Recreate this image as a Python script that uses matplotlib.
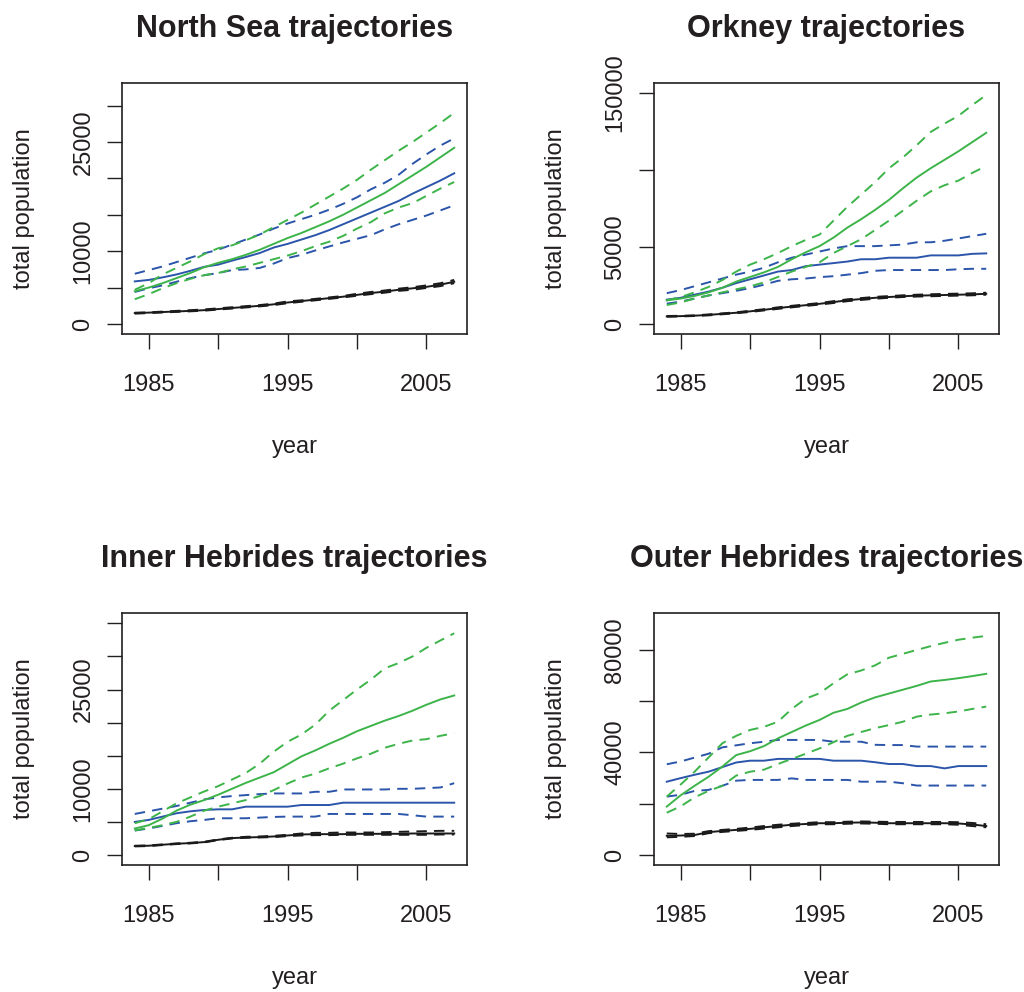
import matplotlib
matplotlib.use("Agg")
import matplotlib.pyplot as plt
import numpy as np

plt.rcParams['font.family'] = ['Liberation Sans', 'DejaVu Sans']
plt.rcParams['lines.scale_dashes'] = False

years = np.arange(1984, 2008)

# ---- North Sea ----
ns_black = [1500, 1560, 1640, 1720, 1800, 1900, 2050, 2200, 2350, 2500, 2700, 2950,
            3150, 3350, 3550, 3750, 4000, 4250, 4450, 4700, 4900, 5100, 5400, 5800]
ns_black_hi = [1550, 1600, 1700, 1800, 1900, 2000, 2150, 2300, 2450, 2600, 2800, 3100,
               3250, 3450, 3650, 3850, 4150, 4400, 4600, 4850, 5050, 5300, 5600, 6050]
ns_black_lo = [1420, 1500, 1580, 1660, 1740, 1830, 1980, 2120, 2270, 2420, 2600, 2850,
               3050, 3250, 3450, 3650, 3880, 4100, 4300, 4550, 4700, 4950, 5200, 5600]
ns_blue = [5850, 6050, 6400, 6800, 7300, 7850, 8150, 8700, 9200, 9750, 10500, 11000,
           11600, 12200, 12900, 13700, 14500, 15300, 16100, 16900, 17900, 18800, 19700, 20700]
ns_blue_hi = [6900, 7400, 7900, 8500, 9100, 9700, 10200, 10900, 11600, 12300, 13100, 13800,
              14400, 15000, 15700, 16500, 17400, 18500, 19400, 20500, 22000, 23300, 24500, 25500]
ns_blue_lo = [4400, 4900, 5300, 5800, 6300, 6700, 7000, 7400, 7500, 7700, 8300, 9050,
              9500, 10100, 10650, 11200, 11700, 12200, 13000, 13700, 14300, 14900, 15600, 16300]
ns_green = [4500, 5000, 5600, 6300, 7000, 7800, 8400, 8900, 9500, 10200, 11000, 11800,
            12500, 13300, 14100, 15000, 16000, 17000, 18000, 19200, 20400, 21600, 22900, 24200]
ns_green_hi = [4700, 5600, 6800, 7700, 8600, 9600, 10400, 10800, 11500, 12300, 13300, 14300,
               15300, 16400, 17500, 18600, 19800, 21200, 22500, 23800, 25000, 26300, 27600, 29000]
ns_green_lo = [3400, 4100, 4900, 5600, 6200, 6700, 7000, 7500, 7900, 8400, 8900, 9400,
               10000, 10700, 11300, 12100, 13100, 14000, 15200, 16000, 16600, 17600, 18600, 19500]

# ---- Orkney ----
ork_black = [4960, 5100, 5400, 5900, 6600, 7300, 8200, 9200, 10300, 11300, 12200, 13100,
             14200, 15400, 16200, 17000, 17500, 18000, 18400, 18600, 18800, 19000, 19200, 19600]
ork_black_hi = [5200, 5300, 5600, 6200, 6900, 7600, 8600, 9600, 10800, 11800, 12700, 13600,
                14800, 16000, 16800, 17600, 18100, 18600, 19000, 19300, 19500, 19700, 19900, 20300]
ork_black_lo = [4700, 4900, 5200, 5600, 6300, 7000, 7800, 8800, 9800, 10800, 11700, 12600,
                13600, 14800, 15600, 16400, 17000, 17500, 17800, 18000, 18200, 18400, 18600, 19000]
ork_blue = [15800, 17000, 19000, 21000, 23500, 26500, 29000, 31500, 34000, 35000, 37500, 38500,
            39500, 40500, 42000, 42000, 43000, 43000, 43000, 44500, 44500, 44500, 45500, 45800]
ork_blue_hi = [20000, 22000, 24500, 27000, 29500, 32000, 34000, 36500, 40000, 43000, 45000, 47000,
               49000, 50500, 50500, 50500, 51000, 51500, 53000, 53000, 54000, 55500, 57000, 58500]
ork_blue_lo = [13200, 14500, 16500, 18500, 20000, 21500, 23300, 25500, 28000, 29000, 29500, 30400,
               31000, 32000, 33000, 34500, 35000, 35000, 35000, 35000, 35000, 35500, 35800, 35800]
ork_green = [15300, 16500, 18200, 20500, 23500, 27500, 30500, 33500, 37000, 42000, 46500, 50500,
             56000, 62500, 68000, 74000, 80500, 88000, 95000, 101000, 106500, 112000, 118000, 124000]
ork_green_hi = [15300, 17500, 20500, 24000, 28500, 34000, 38500, 42000, 46000, 50500, 54500, 58000,
                67000, 76000, 84000, 92000, 101000, 108000, 116000, 124500, 130000, 135000, 142000, 148500]
ork_green_lo = [12300, 14000, 16500, 18500, 20500, 22500, 24400, 27000, 30500, 34000, 37000, 40000,
                46000, 50500, 55000, 61000, 67000, 73500, 80000, 86000, 90000, 93000, 98000, 102500]

# ---- Inner Hebrides ----
ih_black = [1350, 1400, 1550, 1700, 1800, 1950, 2300, 2550, 2650, 2700, 2800, 2950,
            3100, 3150, 3150, 3150, 3200, 3200, 3200, 3200, 3250, 3250, 3250, 3250]
ih_black_hi = [1400, 1450, 1600, 1750, 1850, 2000, 2350, 2600, 2750, 2800, 2900, 3050,
               3250, 3350, 3350, 3400, 3400, 3400, 3450, 3500, 3550, 3600, 3650, 3650]
ih_black_lo = [1300, 1350, 1500, 1650, 1750, 1900, 2250, 2500, 2600, 2650, 2700, 2850,
               2950, 3000, 3000, 3050, 3050, 3050, 3050, 3050, 3050, 3050, 3100, 3100]
ih_blue = [5000, 5300, 5800, 6300, 6600, 6800, 6900, 6900, 7300, 7300, 7300, 7300,
           7550, 7550, 7550, 7900, 7900, 7900, 7900, 7900, 7900, 7900, 7900, 7900]
ih_blue_hi = [6200, 6600, 7000, 7400, 7900, 8400, 8700, 8900, 9050, 9200, 9300, 9300,
              9300, 9550, 9550, 9900, 9900, 9900, 9900, 10000, 10000, 10100, 10200, 10850]
ih_blue_lo = [3700, 4000, 4400, 4800, 5100, 5300, 5550, 5550, 5550, 5650, 5750, 5800,
              5800, 5800, 6200, 6200, 6200, 6200, 6200, 6200, 6000, 5800, 5800, 5800]
ih_green = [4000, 4500, 5500, 6700, 7600, 8300, 9100, 10000, 10900, 11700, 12500, 13700,
            14900, 15800, 16800, 17700, 18700, 19500, 20300, 21000, 21800, 22700, 23500, 24100]
ih_green_hi = [4800, 5400, 6600, 7800, 8700, 9600, 10400, 11400, 12400, 13800, 15600, 17100,
               18200, 19700, 21800, 23400, 25000, 26500, 28200, 29000, 30000, 31300, 32400, 33500]
ih_green_lo = [3700, 4100, 4500, 5000, 5800, 6700, 7300, 7800, 8300, 8900, 9800, 10800,
               11700, 12300, 13100, 13800, 14600, 15300, 16200, 16800, 17300, 17500, 18000, 18400]

# ---- Outer Hebrides ----
oh_black = [7500, 7600, 7800, 8900, 9400, 9800, 10200, 10800, 11300, 11800, 12100, 12400,
            12400, 12600, 12700, 12600, 12400, 12400, 12400, 12400, 12400, 12300, 11900, 11300]
oh_black_hi = [8400, 8200, 8300, 9300, 9800, 10200, 10700, 11300, 11800, 12200, 12500, 12800,
               12800, 13000, 13100, 13000, 12900, 12900, 12900, 12900, 12900, 12800, 12500, 12000]
oh_black_lo = [6900, 7100, 7400, 8500, 9000, 9400, 9800, 10300, 10800, 11300, 11700, 12000,
               12000, 12200, 12300, 12200, 12000, 12000, 12000, 12000, 12000, 11800, 11300, 10800]
oh_blue = [28600, 30000, 31300, 32500, 34300, 36100, 36800, 36800, 37500, 37500, 37500, 37500,
           36800, 36800, 36800, 36200, 35500, 35500, 34700, 34700, 33800, 34700, 34700, 34700]
oh_blue_hi = [35400, 36500, 38000, 39500, 42000, 42800, 43600, 44200, 44900, 44900, 44900, 44900,
              44200, 44200, 44200, 43000, 42900, 42900, 42300, 42300, 42300, 42300, 42300, 42300]
oh_blue_lo = [22800, 23500, 25000, 25400, 27000, 29000, 29300, 29300, 29300, 29900, 29300, 29300,
              29300, 29300, 28600, 28600, 28600, 28000, 27100, 27100, 27100, 27100, 27100, 27100]
oh_green = [18900, 23300, 27000, 30500, 34500, 39000, 40500, 42500, 45500, 48000, 50500, 52700,
            55500, 57000, 59500, 61500, 63000, 64500, 66000, 67700, 68300, 69000, 69800, 70700]
oh_green_hi = [22800, 27500, 32500, 38000, 43600, 46500, 48800, 50000, 52000, 57000, 61000, 63100,
               67000, 70500, 72000, 74000, 77000, 78500, 80000, 81500, 82800, 84000, 84800, 85500]
oh_green_lo = [16500, 19000, 22500, 25000, 27000, 31000, 32500, 33300, 35500, 37500, 39500, 41600,
               44000, 46500, 48000, 49500, 50700, 52000, 54000, 54800, 55300, 56000, 57000, 57900]

titles = ["North Sea trajectories", "Orkney trajectories",
          "Inner Hebrides trajectories", "Outer Hebrides trajectories"]
year_ticks = [1985, 1990, 1995, 2000, 2005]
year_labels = ["1985", "", "1995", "", "2005"]
ns_yticks = [0, 5000, 10000, 15000, 20000, 25000, 30000]
ns_ylabels = ["0", "", "10000", "", "", "25000", ""]
ork_yticks = [0, 50000, 100000, 150000]
ork_ylabels = ["0", "50000", "", "150000"]
ih_yticks = [0, 5000, 10000, 15000, 20000, 25000, 30000, 35000]
ih_ylabels = ["0", "", "10000", "", "", "25000", "", ""]
oh_yticks = [0, 20000, 40000, 60000, 80000]
oh_ylabels = ["0", "", "40000", "", "80000"]

BLACK = "#1a1a1a"
BLUE = "#2b55aa"
GREEN = "#3db44a"
TEXT = "#231f20"
DASH = (7.5, 5.2)

panels = [
    dict(black=(ns_black, ns_black_hi, ns_black_lo), blue=(ns_blue, ns_blue_hi, ns_blue_lo),
         green=(ns_green, ns_green_hi, ns_green_lo), yticks=ns_yticks, ylabels=ns_ylabels,
         ylim=(-1375, 33100), rect=(122, 83, 467, 334)),
    dict(black=(ork_black, ork_black_hi, ork_black_lo), blue=(ork_blue, ork_blue_hi, ork_blue_lo),
         green=(ork_green, ork_green_hi, ork_green_lo), yticks=ork_yticks, ylabels=ork_ylabels,
         ylim=(-6485, 156300), rect=(654, 83, 999, 334)),
    dict(black=(ih_black, ih_black_hi, ih_black_lo), blue=(ih_blue, ih_blue_hi, ih_blue_lo),
         green=(ih_green, ih_green_hi, ih_green_lo), yticks=ih_yticks, ylabels=ih_ylabels,
         ylim=(-1511, 36560), rect=(122, 613, 467, 865)),
    dict(black=(oh_black, oh_black_hi, oh_black_lo), blue=(oh_blue, oh_blue_hi, oh_blue_lo),
         green=(oh_green, oh_green_hi, oh_green_lo), yticks=oh_yticks, ylabels=oh_ylabels,
         ylim=(-3902, 94430), rect=(654, 613, 999, 865)),
]

W, H = 1024, 992
fig = plt.figure(figsize=(W / 100, H / 100), dpi=100)
fig.patch.set_facecolor("white")

for title, p in zip(titles, panels):
    x0, y0, x1, y1 = p["rect"]
    pw, ph = x1 - x0, y1 - y0
    ax = fig.add_axes([x0 / W, 1 - y1 / H, pw / W, ph / H])
    for color, group in ((BLACK, p["black"]), (BLUE, p["blue"]), (GREEN, p["green"])):
        mid, hi, lo = group
        ax.plot(years, mid, color=color, lw=1.4, solid_joinstyle="round")
        for s in (hi, lo):
            ln, = ax.plot(years, s, color=color, lw=1.4)
            ln.set_dashes(DASH)
    ax.set_xlim(1983.08, 2007.92)
    ax.set_ylim(*p["ylim"])
    ax.set_xticks(year_ticks)
    ax.set_xticklabels(year_labels)
    ax.set_yticks(p["yticks"])
    ax.set_yticklabels(p["ylabels"], rotation=90, va="center")
    ax.tick_params(axis="both", direction="out", length=10.8, width=1.0,
                   colors=TEXT, labelsize=17, labelcolor=TEXT)
    ax.tick_params(axis="x", pad=18)
    ax.tick_params(axis="y", pad=9)
    for sp in ax.spines.values():
        sp.set_linewidth(1.2)
        sp.set_color(TEXT)
    # axis labels sit a fixed pixel distance from the frame
    ax.set_xlabel("year", fontsize=17, color=TEXT)
    ax.xaxis.set_label_coords(0.5, -113 / ph)
    ax.xaxis.label.set_va("center")
    ax.set_ylabel("total population", fontsize=17, color=TEXT)
    ax.yaxis.set_label_coords(-98 / pw, 0.5)
    ax.yaxis.label.set_va("center")
    ax.set_title(title, fontsize=22, fontweight="bold", color=TEXT,
                 y=(ph + 46) / ph, pad=0)

fig.savefig("out.png", dpi=100, facecolor="white")
